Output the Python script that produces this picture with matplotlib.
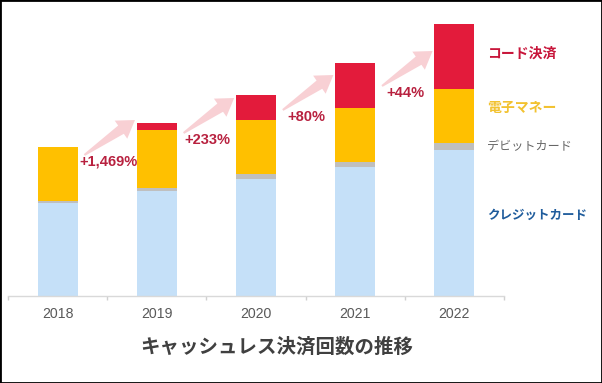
import matplotlib
matplotlib.use("Agg")
import matplotlib.pyplot as plt
import numpy as np
from matplotlib.patches import Polygon, Rectangle
from matplotlib.transforms import IdentityTransform

# ---------------- data ----------------
years = ["2018", "2019", "2020", "2021", "2022"]
credit = [93, 105, 117, 129, 146]
debit = [2, 3, 5, 5, 7.3]
emoney = [54, 58, 54.3, 53.7, 54]
code = [0.47, 7.3, 25, 45, 65]
series_names = ["クレジットカード", "デビットカード", "電子マネー", "コード決済"]
growth_labels = ["+1,469%", "+233%", "+80%", "+44%"]
title = "キャッシュレス決済回数の推移"

# ---------------- layout / style ----------------
bar_colors = ["#C5E0F8", "#BFBFBF", "#FFC000", "#E31B3B"]
label_colors = ["#1F5C9C", "#666666", "#F2C230", "#C8153A"]
label_sizes = [9, 8.7, 10, 10]
label_weights = ["bold", "normal", "bold", "bold"]
label_dy = [8, 0, 8, 3]
growth_y = [134, 156, 179, 203]
growth_color = "#B8213F"
JP = ["Noto Sans CJK JP", "DejaVu Sans"]
LAT = ["Liberation Sans", "DejaVu Sans"]

W, H, DPI = 6.02, 3.83, 100
fig = plt.figure(figsize=(W, H), dpi=DPI)
fig.patch.set_facecolor("white")
ax = fig.add_axes([8 / 602, (383 - 296) / 383, 496 / 602, 286 / 383])
ax.set_xlim(-0.5, 4.5)
ax.set_ylim(0, 286)

x = np.arange(len(years))
stack = [credit, debit, emoney, code]
bottom = np.zeros(len(years))
for vals, col in zip(stack, bar_colors):
    ax.bar(x, vals, width=0.405, bottom=bottom, color=col, linewidth=0, zorder=2)
    bottom += np.array(vals)

# spines and ticks
for s in ["top", "right", "left"]:
    ax.spines[s].set_visible(False)
ax.spines["bottom"].set_color("#D9D9D9")
ax.spines["bottom"].set_linewidth(1.0)
ax.set_yticks([])
ax.set_xticks(x)
ax.set_xticklabels(years, fontsize=10.2, color="#595959", family=LAT)
ax.tick_params(axis="x", which="major", length=0, pad=8)
ax.set_xticks(np.arange(-0.5, 4.6, 1.0), minor=True)
ax.tick_params(axis="x", which="minor", length=3, color="#D0D0D0", width=1)

# series labels at the right of last bar
last = len(years) - 1
cum = 0.0
for i, vals in enumerate(stack):
    mid = cum + vals[last] / 2
    cum += vals[last]
    ax.text(4.33, mid + label_dy[i], series_names[i], fontsize=label_sizes[i],
            color=label_colors[i], fontweight=label_weights[i], family=JP,
            ha="left", va="center", clip_on=False)

# growth labels
for i, lab in enumerate(growth_labels):
    ax.text(i + 0.51, growth_y[i], lab, fontsize=10.5, color=growth_color,
            fontweight="bold", family=LAT, ha="center", va="center", zorder=4)

# arrows (pink tapered block arrows)
fig.canvas.draw()
def draw_arrow(p0, p1):
    a = ax.transData.transform(p0)
    b = ax.transData.transform(p1)
    d = b - a
    L = np.hypot(*d)
    u = d / L
    n = np.array([-u[1], u[0]])
    head_len, head_w, shaft_w, tail_w = 17, 22, 10, 2
    base = b - u * head_len
    pts = [a + n * tail_w / 2, base + n * shaft_w / 2, base + n * head_w / 2, b,
           base - n * head_w / 2, base - n * shaft_w / 2, a - n * tail_w / 2]
    poly = Polygon(pts, closed=True, transform=IdentityTransform(),
                   facecolor="#F7C8CD", edgecolor="none", alpha=0.85, zorder=1)
    fig.add_artist(poly)

for i in range(len(growth_labels)):
    draw_arrow((i + 0.27, growth_y[i] + 7), (i + 0.78, growth_y[i] + 42))

# title
fig.text(277 / 602, 1 - 347 / 383, title, fontsize=14, fontweight="bold",
         color="#404040", family=JP, ha="center", va="center")

# outer frame
fig.add_artist(Rectangle((0, 0), 1, 1, transform=fig.transFigure, fill=False,
                         edgecolor="black", linewidth=2.0, zorder=10))

fig.savefig("out.png", dpi=DPI)
